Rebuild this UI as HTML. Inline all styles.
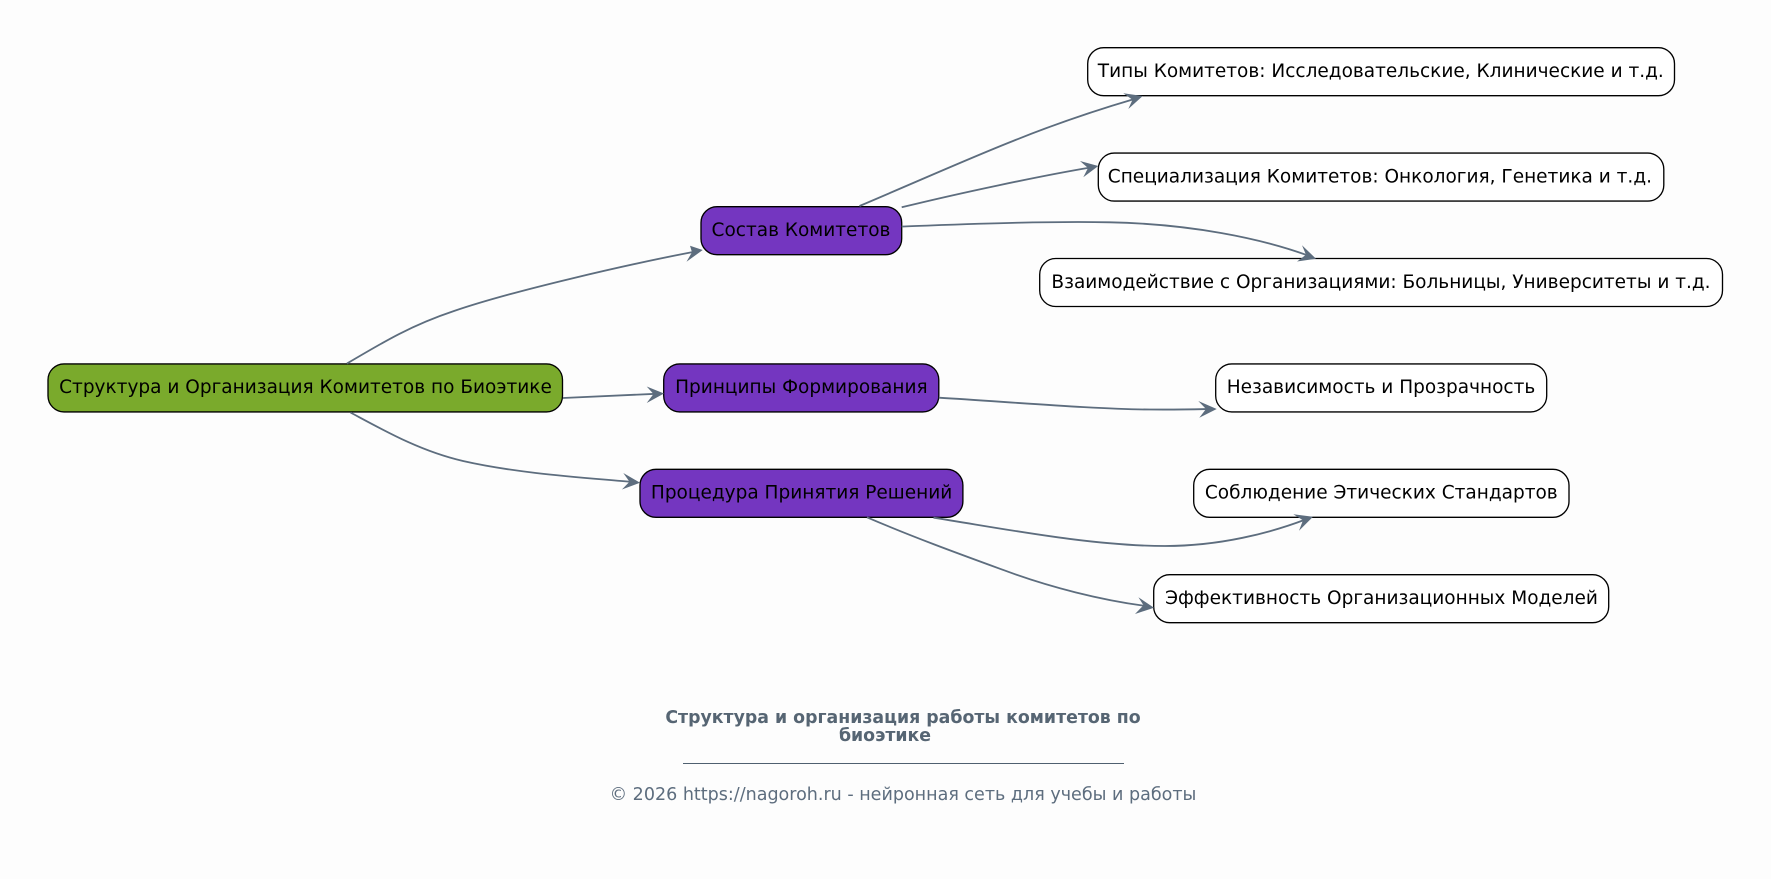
<!DOCTYPE html>
<html><head><meta charset="utf-8"><style>
html,body{margin:0;padding:0;background:#fdfdfd}
svg{display:block}
text{font-family:"DejaVu Sans","Liberation Sans",sans-serif;font-size:18.5px;fill:#000;text-anchor:middle}
.n{stroke:#000;stroke-width:1.33}
.e{fill:none;stroke:#5d6d7e;stroke-width:1.8}
.a{fill:#5d6d7e;stroke:none}
</style></head><body>
<svg width="1771" height="879" viewBox="0 0 1771 879" xmlns="http://www.w3.org/2000/svg">
<rect width="1771" height="879" fill="#fdfdfd"/>
<rect class="n" x="48" y="363.9" width="514.5" height="48" rx="16" fill="#7aaa2c"/>
<rect class="n" x="701" y="206.7" width="200.7" height="48" rx="16" fill="#7436c0"/>
<rect class="n" x="663.7" y="363.9" width="275.1" height="48" rx="16" fill="#7436c0"/>
<rect class="n" x="640" y="469.3" width="322.9" height="48" rx="16" fill="#7436c0"/>
<rect class="n" x="1087.7" y="47.7" width="586.8" height="48" rx="16" fill="#fff"/>
<rect class="n" x="1098.3" y="153.1" width="565.5" height="48" rx="16" fill="#fff"/>
<rect class="n" x="1039.7" y="258.5" width="682.8" height="48" rx="16" fill="#fff"/>
<rect class="n" x="1215.7" y="363.9" width="331" height="48" rx="16" fill="#fff"/>
<rect class="n" x="1193.7" y="469.3" width="375.3" height="48" rx="16" fill="#fff"/>
<rect class="n" x="1153.7" y="574.7" width="455" height="48" rx="16" fill="#fff"/>
<path class="e" d="M347,363.5C385,341 412,325 454,311C512,291 630,264 695,251.6"/>
<path class="e" d="M563,398L656,393.8"/>
<path class="e" d="M350.5,412.5C385,431 420,451 463,461C520,474 590,478 632,482"/>
<path class="e" d="M859.5,206C930,176 970,158 1013,141C1055,124 1100,109 1135.2,98.7"/>
<path class="e" d="M901.7,207.3C960,193 1040,176 1090.4,167.5"/>
<path class="e" d="M901.7,226.5C960,224.5 1040,221 1110,222.3C1190,224 1260,238 1308.5,255.7"/>
<path class="e" d="M938.8,397.7C1010,402 1100,409.5 1150,409.5C1175,409.8 1195,409.3 1208.7,409"/>
<path class="e" d="M933.5,517.7C1000,528 1090,546 1165,546C1220,546 1270,533 1305.5,519.5"/>
<path class="e" d="M867,517.3C915,538 965,556 1008,571.7C1050,587 1100,600 1146,606"/>
<polygon class="a" points="702.7,250 690,245.7 692,252.2 686.5,261.8"/>
<polygon class="a" points="664,393.5 646.7,386.5 653.5,394 646.7,403"/>
<polygon class="a" points="640,482.7 623.3,473 629.5,481.8 621.9,489.5"/>
<polygon class="a" points="1142.7,96 1123.3,93.3 1132.5,99.7 1128.3,109"/>
<polygon class="a" points="1098.3,166 1080,161 1088,168 1083.3,177.3"/>
<polygon class="a" points="1316,258.7 1302,245.3 1306,254.8 1297,261.5"/>
<polygon class="a" points="1216.7,409 1198.3,401 1206,409 1199.3,417.7"/>
<polygon class="a" points="1313,516.7 1293.3,514.3 1303,520.3 1299,530.7"/>
<polygon class="a" points="1154,607.7 1138.4,597.3 1143.5,605.2 1135,614"/>
<text x="305.5" y="393">Структура и Организация Комитетов по Биоэтике</text>
<text x="801" y="236">Состав Комитетов</text>
<text x="801.4" y="393">Принципы Формирования</text>
<text x="801.6" y="498.4">Процедура Принятия Решений</text>
<text x="1380.8" y="77">Типы Комитетов: Исследовательские, Клинические и т.д.</text>
<text x="1379.9" y="182.4">Специализация Комитетов: Онкология, Генетика и т.д.</text>
<text x="1381" y="287.8">Взаимодействие с Организациями: Больницы, Университеты и т.д.</text>
<text x="1381" y="393">Независимость и Прозрачность</text>
<text x="1381.3" y="498.4">Соблюдение Этических Стандартов</text>
<text x="1381.5" y="603.8">Эффективность Организационных Моделей</text>
<text x="903" y="722.8" style="font-size:17.33px;font-weight:bold;fill:#566573">Структура и организация работы комитетов по</text>
<text x="885" y="740.8" style="font-size:17.33px;font-weight:bold;fill:#566573">биоэтике</text>
<line x1="683" y1="763.5" x2="1124" y2="763.5" stroke="#4f6070" stroke-width="1" shape-rendering="crispEdges"/>
<text x="903" y="800" style="font-size:17.53px;fill:#5d6d7e">© 2026 https://nagoroh.ru - нейронная сеть для учебы и работы</text>
</svg>
</body></html>
